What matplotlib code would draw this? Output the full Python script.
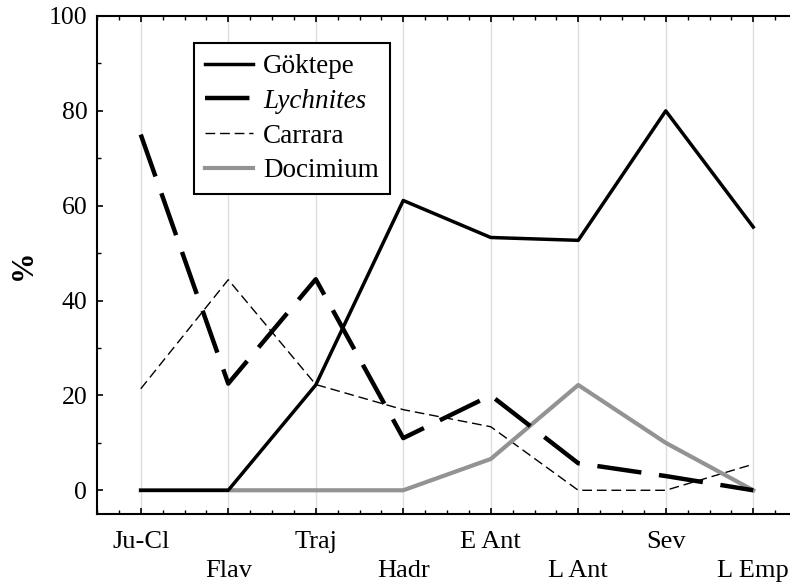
import matplotlib
matplotlib.use("Agg")
import matplotlib.pyplot as plt
from matplotlib.ticker import MultipleLocator

periods = ["Ju-Cl", "Flav", "Traj", "Hadr", "E Ant", "L Ant", "Sev", "L Emp"]
goktepe = [0, 0, 22.2, 61.1, 53.3, 52.7, 80, 55.5]
lychnites = [75, 22.5, 44.5, 11, 20, 5.7, 3, 0]
carrara = [21.4, 44.4, 22.3, 17, 13.4, 0, 0, 5.5]
docimium = [0, 0, 0, 0, 6.6, 22.2, 10, 0]

plt.rcParams['font.family'] = ['Liberation Serif', 'DejaVu Serif']

fig = plt.figure(figsize=(7.9, 5.88), dpi=100)
ax = fig.add_axes([97/790, 1-514/588, 700/790, (514-16)/588])

x = list(range(len(periods)))
ax.plot(x, goktepe, color='black', lw=2.5, label='Göktepe', zorder=4)
ax.plot(x, lychnites, color='black', lw=3.2, dashes=(10, 4), label='Lychnites', zorder=4)
ax.plot(x, carrara, color='black', lw=1.0, dashes=(7, 3.5), label='Carrara', zorder=3)
ax.plot(x, docimium, color='#939393', lw=3.0, label='Docimium', zorder=3)

ax.set_xlim(-0.5, 7.5)
ax.set_ylim(-5, 100)
ax.set_xticks(x)
labels = [p if i % 2 == 0 else "\n" + p for i, p in enumerate(periods)]
ax.set_xticklabels(labels, fontsize=19, linespacing=1.45)
ax.xaxis.set_minor_locator(MultipleLocator(0.25))
ax.yaxis.set_minor_locator(MultipleLocator(10))
ax.set_yticks([0, 20, 40, 60, 80, 100])
ax.tick_params(axis='y', labelsize=18.5)
ax.tick_params(which='both', direction='in', top=True, bottom=True, left=True, right=False)
ax.tick_params(which='major', length=4, width=1.2)
ax.tick_params(which='minor', length=3, width=1.0)
ax.tick_params(axis='x', pad=12)
ax.tick_params(axis='y', pad=7)

for s in ['left', 'bottom', 'top']:
    ax.spines[s].set_linewidth(1.5)
ax.spines['right'].set_visible(False)

ax.grid(axis='x', color='#dddddd', lw=1.0, zorder=0)
ax.set_ylabel('%', fontsize=22, fontweight='bold', labelpad=8)

leg = ax.legend(loc='upper left', bbox_to_anchor=(0.139, 0.945), fontsize=19.5,
                frameon=True, fancybox=False, edgecolor='black', framealpha=1,
                handlelength=1.75, labelspacing=0.36, borderpad=0.4, handletextpad=0.4,
                borderaxespad=0)
leg.get_frame().set_linewidth(1.5)
leg.get_texts()[1].set_fontstyle('italic')

fig.savefig('out.png', dpi=100)
